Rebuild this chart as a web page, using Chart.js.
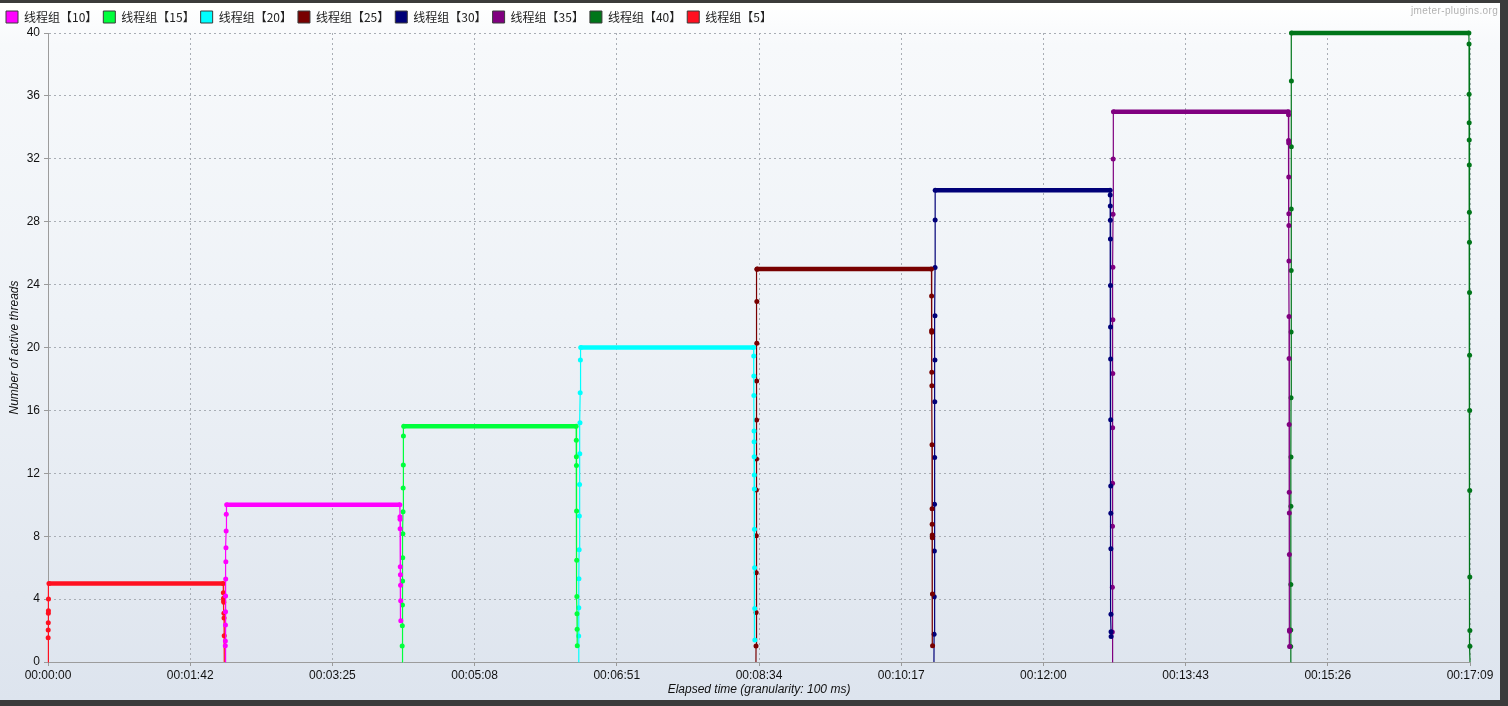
<!DOCTYPE html>
<html>
<head>
<meta charset="utf-8">
<script src="https://cdn.jsdelivr.net/npm/chart.js@4/dist/chart.umd.min.js"></script>
<style>
html,body{margin:0;padding:0;background:#3b3b3b;width:1508px;height:706px;overflow:hidden;}
#wrap{position:absolute;left:0;top:3px;width:1500px;height:697px;
  background:linear-gradient(to bottom,#ffffff 0%,#f7f9fb 6%,#eef2f7 45%,#e2e8f0 85%,#dde4ee 100%);}
#wm{position:absolute;left:1411px;top:2px;font:10px 'Liberation Sans',sans-serif;color:#b2b2b2;letter-spacing:0.4px;}
canvas{display:block;position:absolute;left:0;top:0;}
</style>
</head>
<body>
<div id="wrap"><canvas id="c" width="1500" height="697"></canvas><div id="wm">jmeter-plugins.org</div></div>
<script>
// ---- data (time in seconds, value = number of active threads) ----
const seriesLabels = ['线程组【10】','线程组【15】','线程组【20】','线程组【25】','线程组【30】','线程组【35】','线程组【40】','线程组【5】'];
const seriesColors = ['#ff00ff','#00ff3c','#00ffff','#780000','#000078','#800080','#00761a','#ff1020'];

const tg10_t = [128.2,128.3,128.35,128.4,128.45,128.5,128.6,128.7,128.8,128.9,129.0,129.3,254.6,254.7,254.75,254.8,254.9,255.0,255.1,255.2,255.3];
const tg10_v = [0,1.04,1.33,2.35,3.2,4.2,5.28,6.38,7.27,8.33,9.39,10,10,9.24,9.07,8.48,6.06,5.55,4.88,3.9,2.63];

const tg15_t = [256.2,256.3,256.4,256.5,256.6,256.7,256.8,256.9,257.0,257.1,257.2,257.4,382.2,382.3,382.35,382.4,382.5,382.6,382.7,382.8,382.9,383.0];
const tg15_v = [0,1.02,2.31,3.62,5.15,6.63,8.16,9.56,11.07,12.53,14.37,15,15,14.1,13.06,12.49,9.6,6.47,4.16,3.07,2.08,1.04];

const tg20_t = [383.9,384.0,384.1,384.2,384.35,384.5,384.65,384.8,384.95,385.1,385.25,385.5,510.6,510.7,510.75,510.8,510.9,510.95,511.0,511.1,511.15,511.2,511.3,511.4,511.5];
const tg20_v = [0,1.65,3.45,5.3,7.14,9.28,11.29,13.25,15.22,17.13,19.2,20,20,19.46,18.19,16.94,14.69,14.01,13.06,11.89,11.0,8.44,6.0,3.41,1.4];

const tg25_t = [512.3,512.35,512.4,512.5,512.55,512.6,512.7,512.75,512.8,512.9,512.95,513.0,513.1,639.3,639.4,639.45,639.5,639.55,639.6,639.7,639.75,639.8,639.85,639.9,640.0,640.1];
const tg25_v = [0,1.02,3.14,5.68,8.03,10.94,12.91,15.39,17.87,20.27,22.92,24.97,25,25,23.28,21.08,20.97,18.42,17.57,13.82,9.75,8.76,8.08,7.9,4.32,1.04];

const tg30_t = [641.1,641.2,641.3,641.4,641.5,641.6,641.7,641.8,641.85,641.9,641.95,642.0,768.6,768.65,768.7,768.75,768.8,768.85,768.9,768.95,769.0,769.05,769.1,769.15,769.2,769.25,769.3];
const tg30_v = [0,1.76,4.15,7.06,10.03,13.0,16.55,19.2,22.02,25.08,28.11,30,30,29.7,29.0,28.1,26.9,23.95,21.3,19.27,15.4,11.2,9.46,7.2,3.04,1.93,1.62];

const tg35_t = [770.1,770.15,770.2,770.3,770.35,770.4,770.5,770.55,770.6,770.7,770.8,771.0,897.6,897.7,897.75,897.8,897.85,897.9,897.95,898.0,898.05,898.1,898.15,898.2,898.25,898.3,898.35,898.4,898.45];
const tg35_v = [0,1.9,4.75,8.64,11.36,14.9,18.35,21.76,25.1,28.47,31.98,35,35,34.8,33.17,33.0,30.85,28.5,27.76,25.5,21.97,19.3,15.1,10.8,9.48,6.84,2.03,1.95,0.98];

const tg40_t = [899.2,899.25,899.3,899.35,899.4,899.45,899.5,899.55,899.6,899.65,899.7,899.75,899.8,1028.2,1028.3,1028.35,1028.4,1028.45,1028.5,1028.55,1028.6,1028.65,1028.7,1028.75,1028.8,1028.85,1028.9,1028.95,1029.0];
const tg40_v = [0,0.98,2.03,4.93,9.9,13.03,16.8,20.98,24.9,28.8,32.77,36.94,40,40,39.3,36.1,34.3,33.2,31.6,28.6,26.7,23.5,19.5,16.0,10.9,5.4,2.0,1.0,0];

const tg5_t = [0,0.1,0.15,0.2,0.25,0.3,0.35,0.7,126.8,126.9,127.0,127.1,127.2,127.3,127.4,127.5,127.6];
const tg5_v = [0,1.55,2.03,2.5,3.1,3.26,4.0,5,5,4.4,4.05,3.9,3.8,3.1,2.8,1.67,0];

const seriesTimes  = [tg10_t,tg15_t,tg20_t,tg25_t,tg30_t,tg35_t,tg40_t,tg5_t];
const seriesValues = [tg10_v,tg15_v,tg20_v,tg25_v,tg30_v,tg35_v,tg40_v,tg5_v];

const xTickValues = [0,102.9,205.8,308.7,411.6,514.5,617.4,720.3,823.2,926.1,1029];
const xTickLabels = ['00:00:00','00:01:42','00:03:25','00:05:08','00:06:51','00:08:34','00:10:17','00:12:00','00:13:43','00:15:26','00:17:09'];
const yTickValues = [0,4,8,12,16,20,24,28,32,36,40];

// ---- chart ----
Chart.defaults.font.family = "'Liberation Sans', Arial, sans-serif";
Chart.defaults.font.size = 12;
Chart.defaults.color = '#111';

const datasets = seriesLabels.map((label, i) => ({
  label,
  data: seriesTimes[i].map((t, k) => ({x: t, y: seriesValues[i][k]})),
  borderColor: seriesColors[i],
  backgroundColor: seriesColors[i],
  borderWidth: 1,
  pointRadius: ctx => (ctx.raw && ctx.raw.y > 0 ? 2.5 : 0),
  pointBorderWidth: 0,
  pointBackgroundColor: seriesColors[i],
  pointHoverRadius: 0,
  tension: 0,
  fill: false,
  clip: false,
  segment: {
    borderWidth: ctx => (ctx.p0.parsed.y === ctx.p1.parsed.y && ctx.p0.parsed.y > 0 ? 4.5 : 1.2)
  }
}));

const gridColor = '#a9aeb5';

new Chart(document.getElementById('c'), {
  type: 'line',
  data: {datasets},
  options: {
    responsive: false,
    animation: false,
    devicePixelRatio: 1,
    events: [],
    layout: {padding: {top: 2, right: 30, bottom: 0, left: 0}},
    plugins: {
      tooltip: {enabled: false},
      legend: {
        display: true,
        position: 'top',
        align: 'start',
        labels: {
          boxWidth: 12,
          boxHeight: 12,
          padding: 6,
          color: '#222',
          font: {family: "'Noto Sans CJK SC', 'Liberation Sans', sans-serif", size: 12},
          generateLabels: chart => chart.data.datasets.map((d, i) => ({
            text: d.label,
            fillStyle: d.borderColor,
            strokeStyle: '#3a3a3a',
            lineWidth: 1,
            hidden: false,
            datasetIndex: i,
            fontColor: '#222'
          }))
        }
      }
    },
    scales: {
      x: {
        type: 'linear',
        min: 0,
        max: 1029,
        afterBuildTicks: scale => { scale.ticks = xTickValues.map(v => ({value: v})); },
        afterFit: scale => { scale.height = 38; },
        ticks: {
          autoSkip: false,
          maxRotation: 0,
          padding: 2,
          color: '#111',
          callback: (value, index) => xTickLabels[index]
        },
        grid: {color: gridColor, lineWidth: 1, tickLength: 4, tickColor: '#9a9a9a', drawOnChartArea: true},
        border: {display: true, color: '#9c9c9c', width: 1, dash: [2, 3]},
        title: {
          display: true,
          text: 'Elapsed time (granularity: 100 ms)',
          color: '#111',
          font: {style: 'italic', size: 12},
          padding: {top: 0, bottom: 3}
        }
      },
      y: {
        type: 'linear',
        min: 0,
        max: 40,
        afterBuildTicks: scale => { scale.ticks = yTickValues.map(v => ({value: v})); },
        afterFit: scale => { scale.width = 48; },
        ticks: {padding: 4, color: '#111'},
        grid: {color: gridColor, lineWidth: 1, tickLength: 4, tickColor: '#9a9a9a'},
        border: {display: true, color: '#9c9c9c', width: 1, dash: [2, 3]},
        title: {
          display: true,
          text: 'Number of active threads',
          color: '#111',
          font: {style: 'italic', size: 12},
          padding: {top: 7, bottom: 0}
        }
      }
    }
  }
});
</script>
</body>
</html>
